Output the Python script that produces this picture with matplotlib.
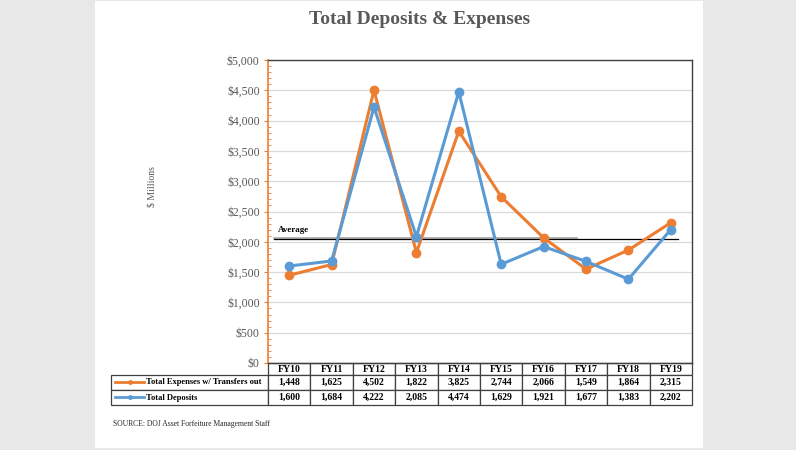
import matplotlib.pyplot as plt
from matplotlib.patches import Rectangle
from matplotlib.lines import Line2D
from matplotlib.ticker import MultipleLocator, FuncFormatter

years = ["FY10", "FY11", "FY12", "FY13", "FY14", "FY15", "FY16", "FY17", "FY18", "FY19"]
expenses = [1448, 1625, 4502, 1822, 3825, 2744, 2066, 1549, 1864, 2315]
deposits = [1600, 1684, 4222, 2085, 4474, 1629, 1921, 1677, 1383, 2202]
series_names = ["Total Expenses w/ Transfers out", "Total Deposits"]
avg_level = 2040

orange = "#ED7D31"
blue = "#5B9BD5"
gray_txt = "#595959"
W, H = 796, 450

plt.rcParams['font.family'] = ['Liberation Serif', 'DejaVu Serif']

fig = plt.figure(figsize=(W / 100, H / 100), dpi=100, facecolor="#e8e8e8")
# white panel
fig.add_artist(Rectangle((95 / W, 2 / H), 608 / W, 447 / H, transform=fig.transFigure,
                         facecolor="white", edgecolor="none", zorder=0))

ax = fig.add_axes([268 / W, (H - 363) / H, 424 / W, 303 / H])
ax.set_facecolor("none")

x = list(range(len(years)))
ax.plot(x, expenses, color=orange, lw=2.2, marker="o", ms=6, zorder=4)
ax.plot(x, deposits, color=blue, lw=2.2, marker="o", ms=6, zorder=5)

# average line
ax.plot([-0.36, 6.79], [avg_level + 20, avg_level + 20], color="#a6a6a6", lw=1.2, zorder=3)
ax.plot([-0.36, 9.17], [avg_level, avg_level], color="black", lw=0.9, zorder=3)
ax.text(-0.26, avg_level + 90, "Average", fontsize=6.5, fontweight="bold", ha="left", va="bottom")

ax.set_xlim(-0.5, 9.5)
ax.set_ylim(0, 5000)
ax.set_xticks([])
ax.yaxis.set_major_locator(MultipleLocator(500))
ax.yaxis.set_minor_locator(MultipleLocator(100))
ax.yaxis.set_major_formatter(FuncFormatter(lambda v, p: f"${v:,.0f}"))
ax.tick_params(axis="y", which="major", direction="out", length=3, color=orange,
               labelcolor=gray_txt, labelsize=8.5, pad=3)
ax.tick_params(axis="y", which="minor", direction="in", length=2.5, color=orange)
ax.grid(axis="y", color="#d9d9d9", lw=0.9)
ax.set_axisbelow(True)
ax.spines["left"].set_color(orange)
ax.spines["left"].set_linewidth(1.2)
for s in ["top", "right", "bottom"]:
    ax.spines[s].set_color("#404040")
    ax.spines[s].set_linewidth(1.0)

fig.text(152 / W, 1 - 187 / H, "$ Millions", rotation=90, color=gray_txt, fontsize=7,
         ha="center", va="center")
fig.text(420 / W, 1 - 19 / H, "Total Deposits & Expenses", color=gray_txt, fontsize=14,
         fontweight="bold", ha="center", va="center")
fig.text(113 / W, 1 - 424 / H, "SOURCE: DOJ Asset Forfeiture Management Staff", fontsize=5.5,
         color="#262626", ha="left", va="center")

# data table (bbox covers only the data columns; row label column extends left)
cell_text = [[f"{v:,}" for v in expenses], [f"{v:,}" for v in deposits]]
tbl = ax.table(cellText=cell_text, rowLabels=series_names, colLabels=years,
               cellLoc="center", rowLoc="left",
               bbox=[0, -42 / 303, 1, 42 / 303])
tbl.auto_set_font_size(False)
tbl._autoColumns = []   # keep the fixed width of the label column
for (r, c), cell in tbl.get_celld().items():
    cell.set_width(157 / 424 if c == -1 else 0.1)
    cell.set_height((12 if r == 0 else 15) / 303)
    cell.set_edgecolor("#404040")
    cell.set_linewidth(0.9)
    cell.set_text_props(fontsize=7, fontweight="bold", color="black")
    if c == -1:
        cell.PAD = 35 / 157
        cell.set_text_props(fontsize=6.1)

# legend keys in the table
for i, col in enumerate([orange, blue]):
    yy = 1 - (382 + 15 * i) / H
    fig.add_artist(Line2D([115 / W, 130 / W, 144 / W], [yy] * 3, color=col, lw=2,
                          marker="o", ms=2.5, markevery=[1], transform=fig.transFigure))

fig.savefig("out.png", dpi=100, facecolor=fig.get_facecolor())
